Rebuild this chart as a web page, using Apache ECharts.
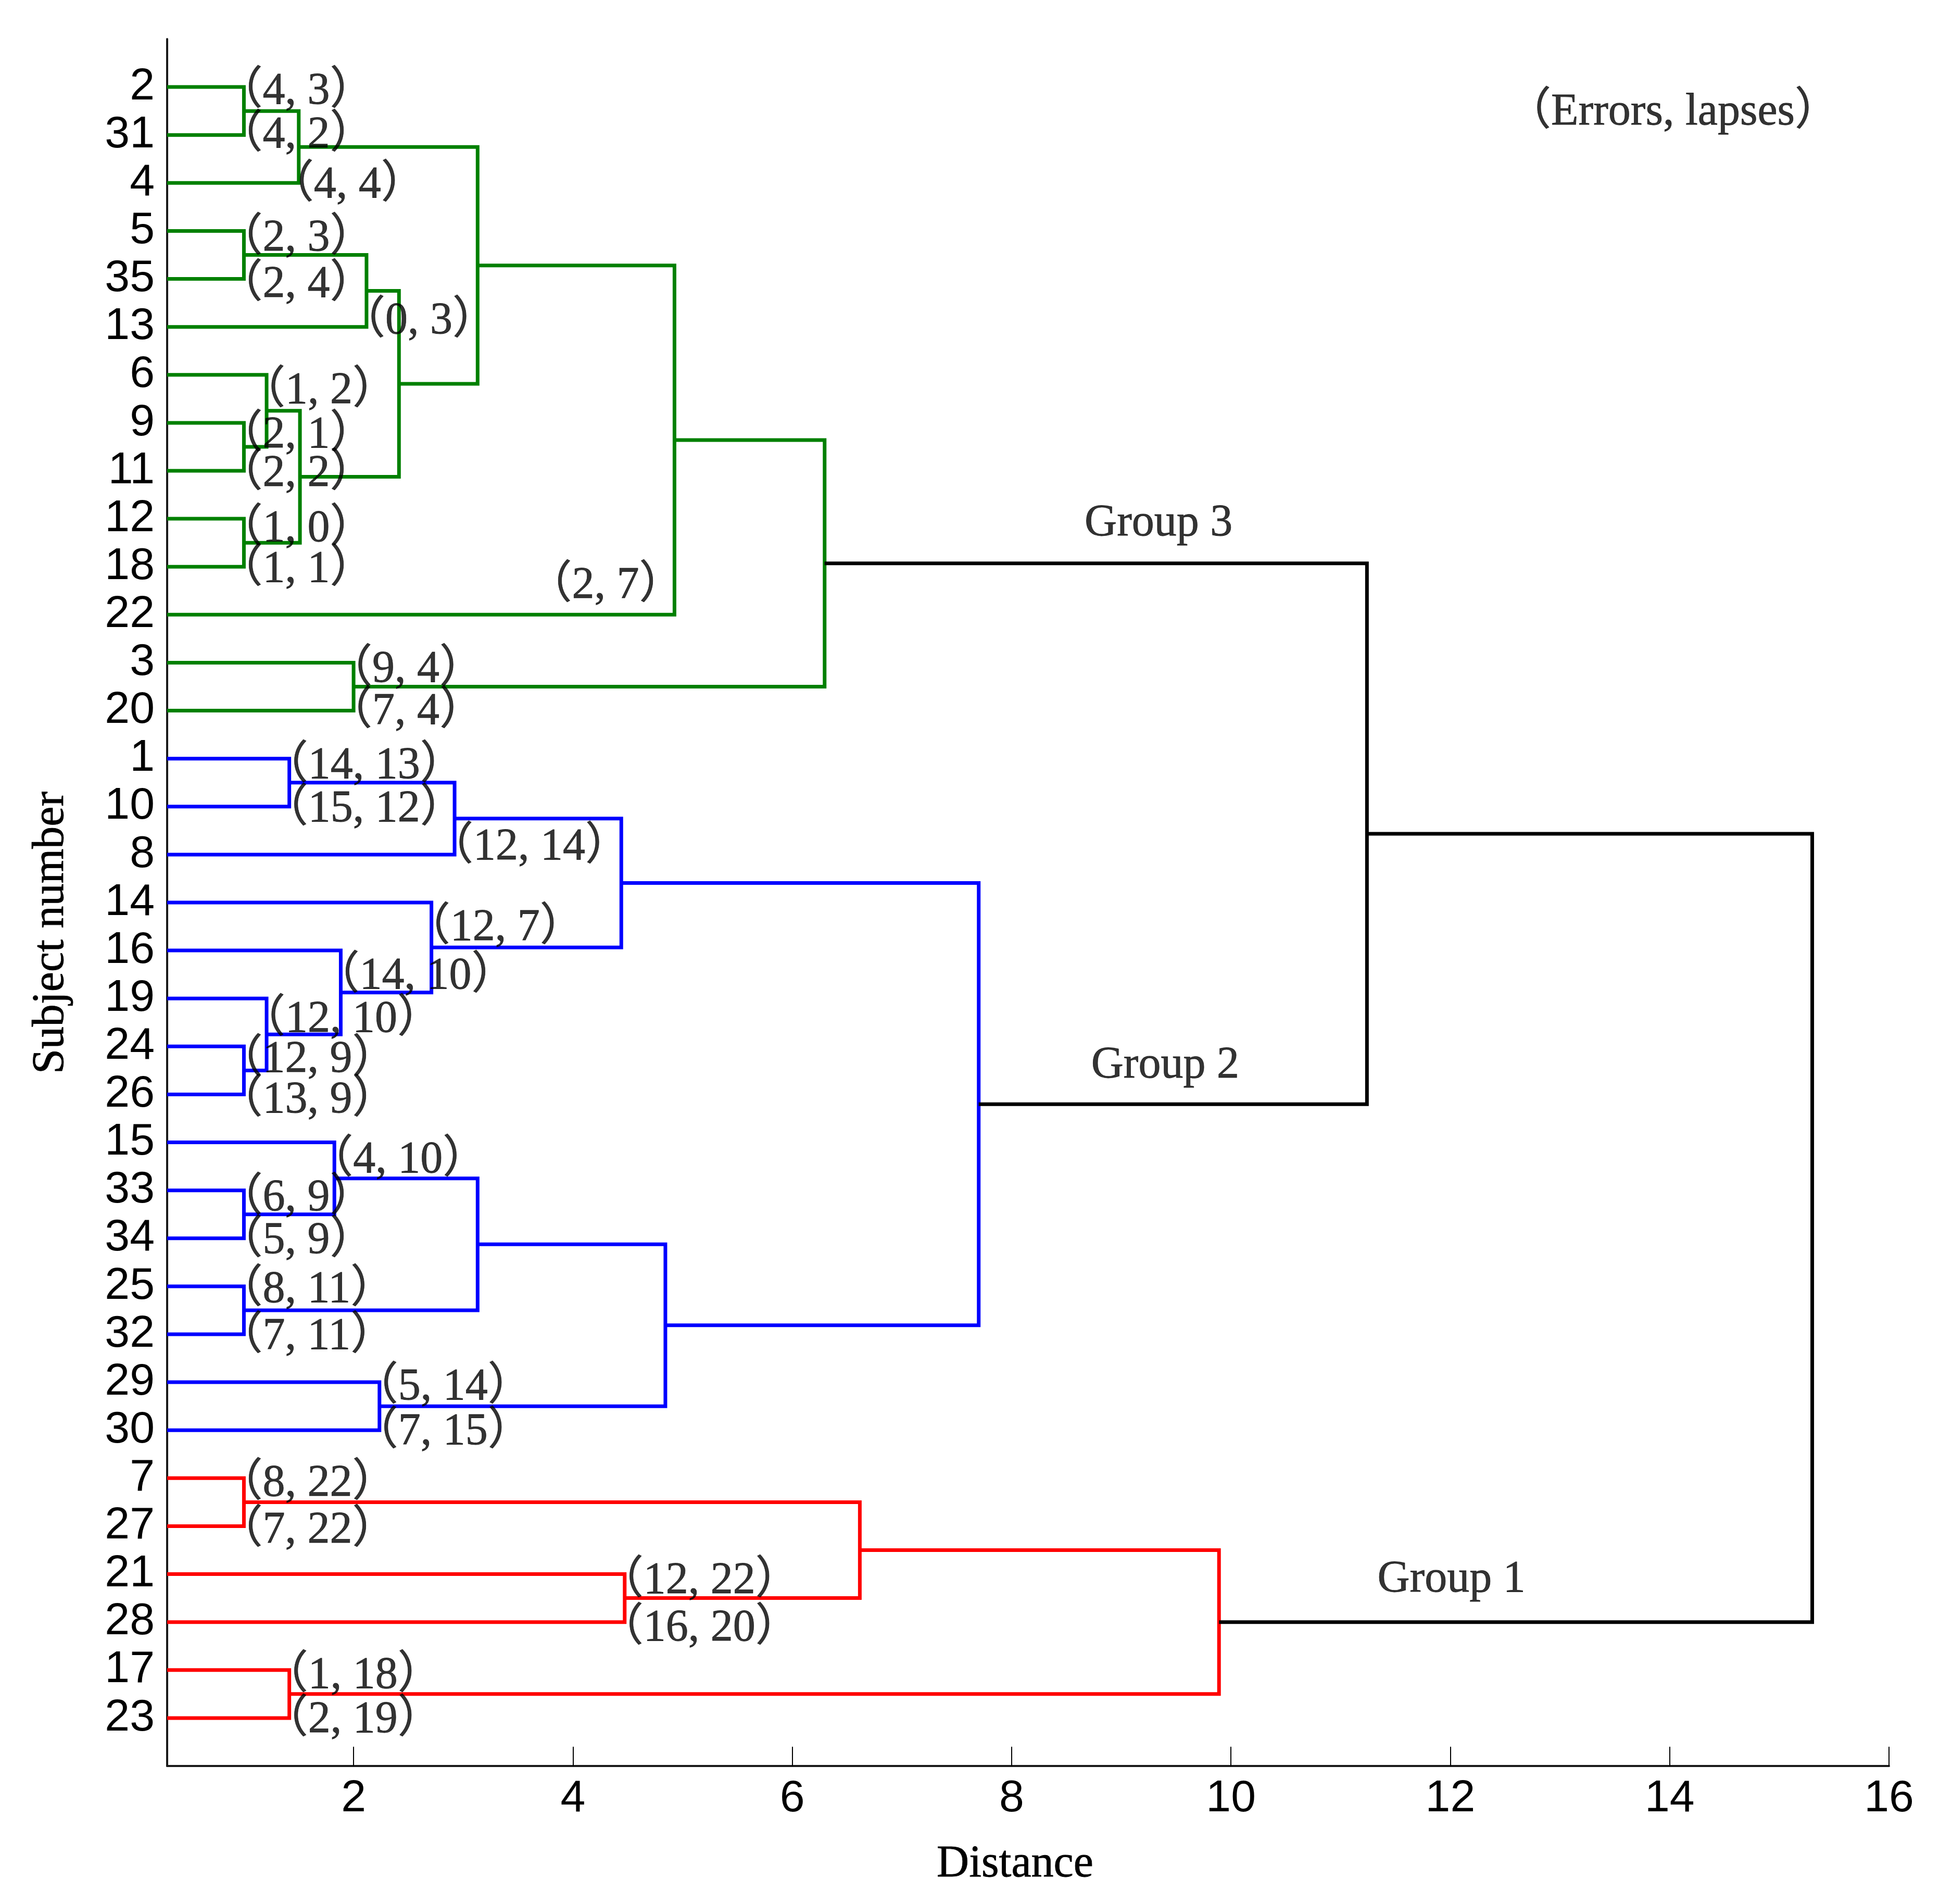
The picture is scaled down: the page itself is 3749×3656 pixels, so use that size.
<!DOCTYPE html>
<html><head><meta charset="utf-8">
<script src="https://cdn.jsdelivr.net/npm/echarts@6/dist/echarts.min.js"></script>
<style>html,body{margin:0;padding:0;background:#fff}#chart{width:3749px;height:3656px}</style>
</head><body><div id="chart"></div>
<script>
// ---- data ----
const subjects = [2,31,4,5,35,13,6,9,11,12,18,22,3,20,1,10,8,14,16,19,24,26,15,33,34,25,32,29,30,7,27,21,28,17,23];
const errors   = [4,4,4,2,2,0,1,2,2,1,1,2,9,7,14,15,12,12,14,12,12,13,4,6,5,8,7,5,7,8,7,12,16,1,2];
const lapses   = [3,2,4,3,4,3,2,1,2,0,1,7,4,4,13,12,14,7,10,10,9,9,10,9,9,11,11,14,15,22,22,22,20,18,19];
// linkage: S = subject, M = merge index
const mergeLeft  = ['S2','M0','S5','M2','S9','S6','S12','M5','M3','M1','M9','S3','M10','S1','M13','S24','S19','S16','S14','M14','S33','S15','S25','M21','S29','M23','M19','S7','S21','M27','S17','M29','M12','M32'];
const mergeRight = ['S31','S4','S35','S13','S11','M4','S18','M6','M7','M8','S22','S20','M11','S10','S8','S26','M15','M16','M17','M18','S34','M20','S32','M22','S30','M24','M25','S27','S28','M28','S23','M30','M26','M31'];
const mergeDistance = [1.000,1.500,1.000,2.118,1.000,1.207,1.000,1.511,2.414,3.131,4.926,2.000,6.295,1.414,2.921,1.000,1.207,1.883,2.710,4.441,1.000,1.825,1.000,3.131,2.236,4.843,7.700,1.000,4.472,6.616,1.414,9.891,11.240,15.300];
const mergeGroup = ['Group 3','Group 3','Group 3','Group 3','Group 3','Group 3','Group 3','Group 3','Group 3','Group 3','Group 3','Group 3','Group 3',
  'Group 2','Group 2','Group 2','Group 2','Group 2','Group 2','Group 2','Group 2','Group 2','Group 2','Group 2','Group 2','Group 2','Group 2',
  'Group 1','Group 1','Group 1','Group 1','Group 1','root','root'];
const groupNames = ['Group 3','Group 2','Group 1','root'];
const xTicks = [2,4,6,8,10,12,14,16];
const legendNote = '（Errors, lapses）';

// ---- layout / style (not data) ----
const groupColors = {'Group 3':'#008000','Group 2':'#0000ff','Group 1':'#ff0000','root':'#000000'};
const groupLabelPos = {'Group 3':[9.34,10.04],'Group 2':[9.40,21.34],'Group 1':[12.01,32.05]};
const notePos = [14.03,1.47];
const labelDy = [0.04,-0.05,-0.01,0.10,0.06,-0.18,0.28,0.20,0.01,0.15,0.00,-0.66,0.09,-0.03,0.09,0.00,-0.21,0.47,0.48,0.38,0.22,0.07,0.31,0.11,0.00,0.02,-0.01,0.05,-0.02,0.05,0.03,0.08,0.07,0.06,-0.02];
const inkGapDefault = 8, inkGapOverride = {4: 1, 22: -225};
const PAREN_INK = 58;
const TEXT_DY = 6;
const SERIF = "'Liberation Serif','Times New Roman','Noto Sans CJK SC',serif";
const SANS = "'Liberation Sans',Arial,sans-serif";
const textWeight = {textBorderColor:'#000', textBorderWidth:0.8};

// ---- tree geometry from linkage ----
const nodeY = {}, nodeX = {}, parentDist = {};
subjects.forEach((s,i)=>{ nodeY['S'+s] = i+1; nodeX['S'+s] = 0; });
mergeLeft.forEach((a,i)=>{
  const b = mergeRight[i], id = 'M'+i;
  nodeY[id] = (nodeY[a]+nodeY[b])/2; nodeX[id] = mergeDistance[i];
  [a,b].forEach(c=>{ if (c[0]==='S') parentDist[c] = mergeDistance[i]; });
});

function renderLink(params, api){
  const xa = api.value(0), ya = api.value(1), xm = api.value(2), yb = api.value(3), xb = api.value(4);
  const pts = [api.coord([xa,ya]), api.coord([xm,ya]), api.coord([xm,yb]), api.coord([xb,yb])];
  return {type:'polyline', shape:{points:pts}, style:{stroke: api.visual('color'), lineWidth: 7, fill: null, lineJoin:'miter'}};
}

const linkSeries = groupNames.map(g=>({
  type:'custom', name:g, renderItem: renderLink, clip:true, silent:true,
  itemStyle:{color: groupColors[g]},
  encode:{x:[0,2,4], y:[1,3]},
  data: mergeLeft.map((a,i)=> mergeGroup[i]===g ? [nodeX[a], nodeY[a], mergeDistance[i], nodeY[mergeRight[i]], nodeX[mergeRight[i]]] : null).filter(d=>d)
}));

const leafLabelData = subjects.map((s,i)=>{
  const gap = (s in inkGapOverride) ? inkGapOverride[s] : inkGapDefault;
  return {value:[parentDist['S'+s], i+1+labelDy[i]],
          name:'（'+errors[i]+', '+lapses[i]+'）',
          label:{offset:[gap-PAREN_INK, TEXT_DY]}};
});

const textSeries = {
  type:'scatter', symbolSize:0, silent:true, z:5,
  data: leafLabelData,
  label:Object.assign({show:true, position:'right', distance:0, formatter: p=>p.name,
         fontFamily:SERIF, fontSize:86, color:'#000', align:'left', verticalAlign:'middle'}, textWeight)
};
const noteSeries = {
  type:'scatter', symbolSize:0, silent:true, z:5,
  data: Object.keys(groupLabelPos).map(g=>({value:groupLabelPos[g], name:g}))
        .concat([{value:notePos, name:legendNote}]),
  label:Object.assign({show:true, position:'inside', formatter:p=>p.name, offset:[0,TEXT_DY],
         fontFamily:SERIF, fontSize:86, color:'#000', align:'center', verticalAlign:'middle'}, textWeight)
};

const chart = echarts.init(document.getElementById('chart'));
chart.setOption({
  animation:false,
  backgroundColor:'#fff',
  grid:{left:321, right:121, top:75, bottom:265, containLabel:false},
  xAxis:{type:'value', min:0.3, max:16,
    axisLine:{show:true, onZero:false, lineStyle:{color:'#1a1a1a', width:4}},
    axisTick:{show:true, inside:true, length:37, customValues:xTicks, lineStyle:{color:'#000', width:2}},
    axisLabel:{customValues:xTicks, fontFamily:SANS, fontSize:86, color:'#000', margin:20},
    splitLine:{show:false},
    name:'Distance', nameLocation:'middle', nameGap:146,
    nameTextStyle:Object.assign({fontFamily:SERIF, fontSize:86, color:'#000', padding:[0,50,0,0]}, textWeight)
  },
  yAxis:{type:'value', min:0, max:36, inverse:true,
    axisLine:{show:true, onZero:false, lineStyle:{color:'#1a1a1a', width:4}},
    axisTick:{show:false},
    axisLabel:{customValues: subjects.map((s,i)=>i+1), formatter:v=>String(subjects[v-1]),
               fontFamily:SANS, fontSize:86, color:'#000', margin:24, padding:[22,0,0,0]},
    splitLine:{show:false},
    name:'Subject number', nameLocation:'middle', nameGap:180, nameRotate:90,
    nameTextStyle:Object.assign({fontFamily:SERIF, fontSize:86, color:'#000', padding:[0,116,0,0]}, textWeight)
  },
  series: linkSeries.concat([textSeries, noteSeries])
});
</script></body></html>
